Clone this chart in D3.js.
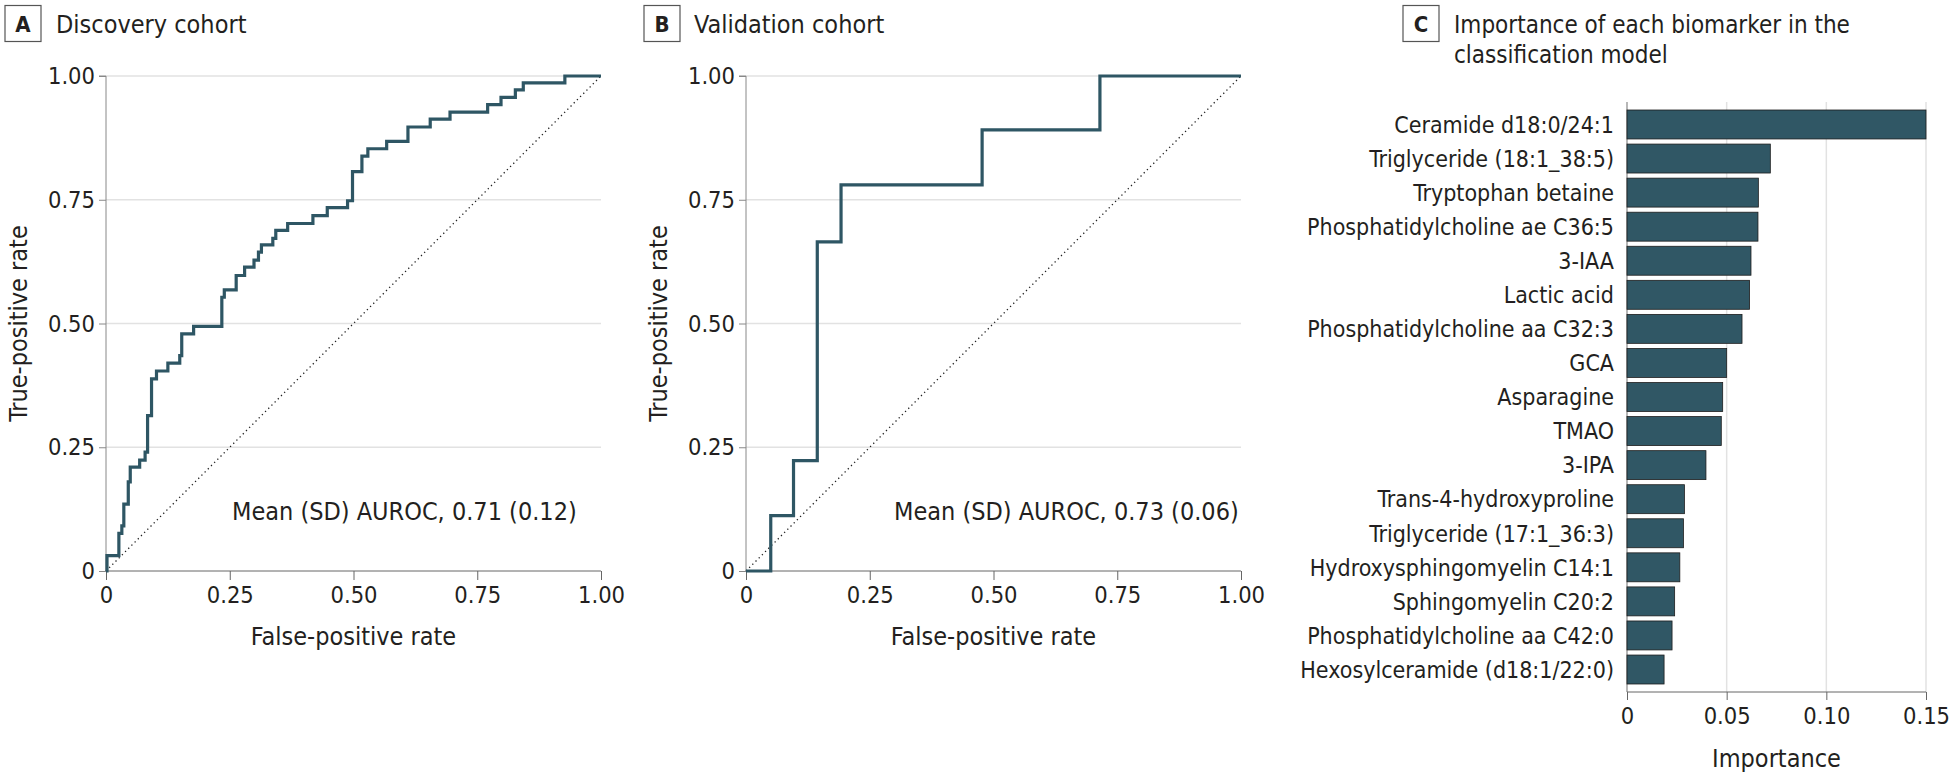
<!DOCTYPE html>
<html><head><meta charset="utf-8">
<script src="https://cdn.jsdelivr.net/npm/d3@7"></script>
<style>
body{margin:0;background:#fff;}
svg text{font-family:"DejaVu Sans Condensed","DejaVu Sans",sans-serif;fill:#231f20;}
</style></head><body>
<svg id="c" width="1954" height="778"></svg>
<script>
// Panel A: discovery cohort ROC corners (rise at fpr to tpr)
const discFPR = [0, 0.002, 0.026, 0.032, 0.036, 0.045, 0.049, 0.068, 0.079, 0.084, 0.092, 0.102, 0.125, 0.149, 0.153, 0.177, 0.234, 0.239, 0.263, 0.280, 0.299, 0.308, 0.314, 0.337, 0.343, 0.367, 0.418, 0.447, 0.488, 0.498, 0.517, 0.529, 0.567, 0.610, 0.655, 0.695, 0.771, 0.798, 0.827, 0.843, 0.927, 1.0];
const discTPR = [0, 0.031, 0.076, 0.091, 0.135, 0.180, 0.210, 0.224, 0.240, 0.314, 0.388, 0.404, 0.420, 0.435, 0.479, 0.494, 0.553, 0.568, 0.597, 0.614, 0.628, 0.644, 0.659, 0.672, 0.688, 0.702, 0.718, 0.734, 0.748, 0.807, 0.838, 0.853, 0.868, 0.897, 0.913, 0.927, 0.942, 0.957, 0.972, 0.986, 1.0, 1.0];
// Panel B: validation cohort
const valFPR = [0, 0.050, 0.096, 0.144, 0.192, 0.477, 0.715, 1.0];
const valTPR = [0, 0.112, 0.223, 0.665, 0.780, 0.891, 1.0, 1.0];
const rocTicks = [0, 0.25, 0.5, 0.75, 1.0];
const rocTickLabels = ["0", "0.25", "0.50", "0.75", "1.00"];
const aucTextA = "Mean (SD) AUROC, 0.71 (0.12)";
const aucTextB = "Mean (SD) AUROC, 0.73 (0.06)";
// Panel C
const biomarkers = ["Ceramide d18:0/24:1", "Triglyceride (18:1_38:5)", "Tryptophan betaine", "Phosphatidylcholine ae C36:5", "3-IAA", "Lactic acid", "Phosphatidylcholine aa C32:3", "GCA", "Asparagine", "TMAO", "3-IPA", "Trans-4-hydroxyproline", "Triglyceride (17:1_36:3)", "Hydroxysphingomyelin C14:1", "Sphingomyelin C20:2", "Phosphatidylcholine aa C42:0", "Hexosylceramide (d18:1/22:0)"];
const importance = [0.150, 0.0719, 0.0659, 0.0657, 0.0622, 0.0615, 0.0577, 0.0500, 0.0480, 0.0473, 0.0396, 0.0288, 0.0283, 0.0265, 0.0239, 0.0226, 0.0186];
const impTicks = [0, 0.05, 0.10, 0.15];
const impTickLabels = ["0", "0.05", "0.10", "0.15"];

const svg = d3.select("#c");
const lineColor = "#2e5664";
const gridColor = "#e2e2e2";

function panelLabel(x, letter, lines, tx, fs){
  const g = svg.append("g");
  g.append("rect").attr("x", x).attr("y", 5.5).attr("width", 36).attr("height", 36)
    .attr("fill", "#fff").attr("stroke", "#555").attr("stroke-width", 1.2);
  g.append("text").attr("x", x + 18).attr("y", 32).attr("text-anchor", "middle")
    .attr("font-size", 22).attr("font-weight", "bold").text(letter);
  lines.forEach((l, i) => {
    g.append("text").attr("x", tx).attr("y", 33 + i * 30).attr("font-size", fs).text(l);
  });
}

function rocPanel(x0, x1, fpr, tpr, aucText, aucX){
  const x = d3.scaleLinear().domain([0, 1]).range([x0, x1]);
  const y = d3.scaleLinear().domain([0, 1]).range([571, 76]);
  const g = svg.append("g");
  g.selectAll(".grid").data(rocTicks.slice(1)).join("line")
    .attr("x1", x0).attr("x2", x1).attr("y1", d => y(d)).attr("y2", d => y(d))
    .attr("stroke", gridColor).attr("stroke-width", 1.5);
  const ya = g.append("g").attr("transform", `translate(${x0},0)`)
    .call(d3.axisLeft(y).tickValues(rocTicks).tickFormat((d, i) => rocTickLabels[i]).tickSize(7).tickPadding(4));
  ya.select(".domain").attr("stroke", "#888").attr("d", `M-7,${y(1)}H0V${y(0)}`);
  ya.selectAll(".tick line").attr("stroke", "#888");
  ya.selectAll("text").attr("font-size", 23.5).attr("fill", "#231f20");
  const xa = g.append("g").attr("transform", `translate(0,${y(0)})`)
    .call(d3.axisBottom(x).tickValues(rocTicks).tickFormat((d, i) => rocTickLabels[i]).tickSize(9).tickPadding(6));
  xa.select(".domain").attr("stroke", "#666").attr("d", `M${x0},0H${x1}`);
  xa.selectAll(".tick line").attr("stroke", "#666");
  xa.selectAll("text").attr("font-size", 23.5).attr("fill", "#231f20");
  g.append("line").attr("x1", x(0)).attr("y1", y(0)).attr("x2", x(1)).attr("y2", y(1))
    .attr("stroke", "#222").attr("stroke-width", 1.3).attr("stroke-dasharray", "1.3,3.2");
  const pts = fpr.map((f, i) => [f, tpr[i]]);
  g.append("path").datum(pts)
    .attr("d", d3.line().x(d => x(d[0])).y(d => y(d[1])).curve(d3.curveStepAfter))
    .attr("fill", "none").attr("stroke", lineColor).attr("stroke-width", 3.2);
  g.append("text").attr("x", (x0 + x1) / 2).attr("y", 645).attr("text-anchor", "middle")
    .attr("font-size", 25).text("False-positive rate");
  g.append("text").attr("transform", `translate(${x0 - 79},${y(0.5)}) rotate(-90)`)
    .attr("text-anchor", "middle").attr("font-size", 25).text("True-positive rate");
  g.append("text").attr("x", aucX).attr("y", 520).attr("font-size", 25).text(aucText);
}

panelLabel(5, "A", ["Discovery cohort"], 56, 25);
rocPanel(106, 601, discFPR, discTPR, aucTextA, 232);
panelLabel(644, "B", ["Validation cohort"], 694, 25);
rocPanel(746, 1241, valFPR, valTPR, aucTextB, 894);
panelLabel(1403, "C", ["Importance of each biomarker in the", "classification model"], 1454, 24);

// Panel C bar chart
(function(){
  const x = d3.scaleLinear().domain([0, 0.15]).range([1627, 1926]);
  const y = d3.scaleBand().domain(biomarkers).range([102, 692]).paddingInner(0.15).paddingOuter(0.235);
  const g = svg.append("g");
  g.selectAll(".vg").data(impTicks.slice(1)).join("line")
    .attr("x1", d => x(d)).attr("x2", d => x(d)).attr("y1", 102).attr("y2", 692)
    .attr("stroke", gridColor).attr("stroke-width", 1.5);
  g.append("line").attr("x1", x(0)).attr("x2", x(0)).attr("y1", 102).attr("y2", 692)
    .attr("stroke", "#888").attr("stroke-width", 1.2);
  g.selectAll(".bar").data(biomarkers).join("rect")
    .attr("x", x(0)).attr("y", d => y(d)).attr("height", y.bandwidth())
    .attr("width", (d, i) => x(importance[i]) - x(0))
    .attr("fill", "#305765").attr("stroke", "#1d1d1d").attr("stroke-width", 0.8);
  g.selectAll(".lab").data(biomarkers).join("text")
    .attr("x", 1614).attr("y", d => y(d) + y.bandwidth() / 2).attr("dy", "0.36em")
    .attr("text-anchor", "end").attr("font-size", 23).text(d => d);
  const xa = g.append("g").attr("transform", "translate(0,692)")
    .call(d3.axisBottom(x).tickValues(impTicks).tickFormat((d, i) => impTickLabels[i]).tickSize(8).tickPadding(7));
  xa.select(".domain").attr("stroke", "#666").attr("d", `M${x(0)},0H${x(0.15)}`);
  xa.selectAll(".tick line").attr("stroke", "#666");
  xa.selectAll("text").attr("font-size", 23.5).attr("fill", "#231f20");
  g.append("text").attr("x", (x(0) + x(0.15)) / 2).attr("y", 767).attr("text-anchor", "middle")
    .attr("font-size", 25).text("Importance");
})();
</script>
</body></html>
